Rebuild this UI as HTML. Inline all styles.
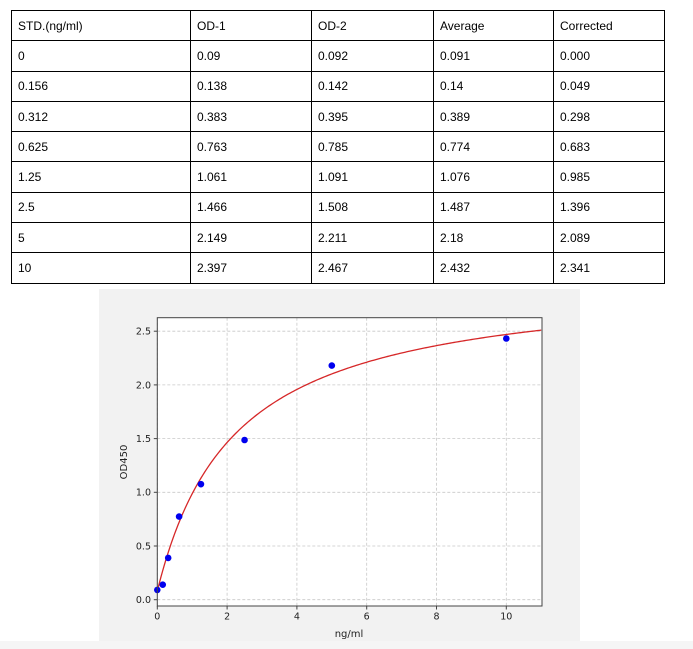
<!DOCTYPE html>
<html><head><style>
body{margin:0;width:693px;height:649px;background:#fff;position:relative;overflow:hidden;font-family:"Liberation Sans",sans-serif}
table{position:absolute;left:11px;top:10px;border-collapse:collapse;font-size:12px;color:#000}
td{border:1px solid #000;height:30.3px;padding:0 0 0 6px;box-sizing:border-box;vertical-align:middle}
</style></head><body>
<table>
<tr><td style="width:179px">STD.(ng/ml)</td><td style="width:121px">OD-1</td><td style="width:122px">OD-2</td><td style="width:120px">Average</td><td style="width:111px">Corrected</td></tr>
<tr><td>0</td><td>0.09</td><td>0.092</td><td>0.091</td><td>0.000</td></tr>
<tr><td>0.156</td><td>0.138</td><td>0.142</td><td>0.14</td><td>0.049</td></tr>
<tr><td>0.312</td><td>0.383</td><td>0.395</td><td>0.389</td><td>0.298</td></tr>
<tr><td>0.625</td><td>0.763</td><td>0.785</td><td>0.774</td><td>0.683</td></tr>
<tr><td>1.25</td><td>1.061</td><td>1.091</td><td>1.076</td><td>0.985</td></tr>
<tr><td>2.5</td><td>1.466</td><td>1.508</td><td>1.487</td><td>1.396</td></tr>
<tr><td>5</td><td>2.149</td><td>2.211</td><td>2.18</td><td>2.089</td></tr>
<tr><td>10</td><td>2.397</td><td>2.467</td><td>2.432</td><td>2.341</td></tr>
</table>
<div style="position:absolute;left:0;top:641px;width:693px;height:8px;background:#f5f5f5"></div>
<svg id="s" style="position:absolute;left:0;top:0" width="693" height="649" font-family="DejaVu Sans, sans-serif" font-size="9.5" fill="#222">
<rect x="99" y="289" width="481" height="352" fill="#f2f2f2"/>
<rect x="157.3" y="317.7" width="384.7" height="288.3" fill="#fff"/>
<g id="g" stroke="#c8c8c8" stroke-dasharray="3,2" stroke-width="0.8"></g>
<path id="c" fill="none" stroke="#d62728" stroke-width="1.3"/>
<g id="p" fill="#0000ee"></g>
<rect x="157.3" y="317.7" width="384.7" height="288.3" fill="none" stroke="#444" stroke-width="1"/>
<g id="t"></g>
<text x="349" y="637" text-anchor="middle" font-size="10">ng/ml</text>
<text transform="translate(127,462) rotate(-90)" text-anchor="middle" font-size="10">OD450</text>
</svg>
<script>
var X=function(v){return 157.3+v*34.9},Y=function(v){return 599.7-v*107.4};
var g=document.getElementById('g'),t=document.getElementById('t');
var gh='',th='';
for(var i=0;i<=10;i+=2){var x=X(i);gh+='<line x1="'+x+'" x2="'+x+'" y1="317.7" y2="606"/>';th+='<line x1="'+x+'" x2="'+x+'" y1="606" y2="609.5" stroke="#444"/><text x="'+x+'" y="619.5" text-anchor="middle">'+i+'</text>';}
for(var j=0;j<=5;j++){var v=j*0.5,y=Y(v);gh+='<line x1="157.3" x2="542" y1="'+y+'" y2="'+y+'"/>';th+='<line x1="153.8" x2="157.3" y1="'+y+'" y2="'+y+'" stroke="#444"/><text x="151" y="'+(y+3.4)+'" text-anchor="end">'+v.toFixed(1)+'</text>';}
g.innerHTML=gh;t.innerHTML=th;
var d='';for(var k=0;k<=220;k++){var xv=k*11/220,yv=3-2.92/(1+xv/2.22);d+=(k?'L':'M')+X(xv).toFixed(2)+','+Y(yv).toFixed(2);}
document.getElementById('c').setAttribute('d',d);
var pts=[[0,0.091],[0.156,0.14],[0.312,0.389],[0.625,0.774],[1.25,1.076],[2.5,1.487],[5,2.18],[10,2.432]],ph='';
pts.forEach(function(p){ph+='<circle cx="'+X(p[0])+'" cy="'+Y(p[1])+'" r="3.3"/>';});
document.getElementById('p').innerHTML=ph;
</script>
</body></html>
